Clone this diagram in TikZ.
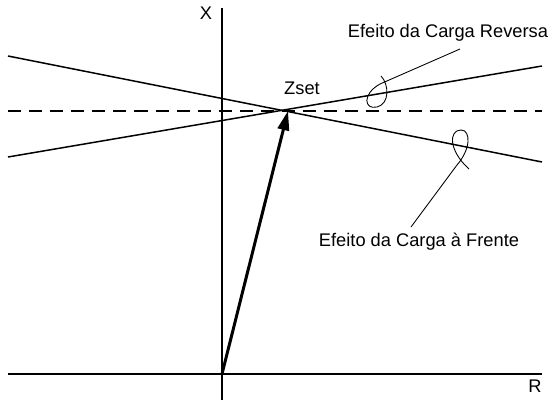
\documentclass[tikz,border=0pt]{standalone}
\usepackage{fontspec}
\setmainfont{Liberation Sans}
\usetikzlibrary{arrows.meta}
\begin{document}
\begin{tikzpicture}[x=0.02cm,y=-0.02cm,
  axis/.style={line width=0.85pt},
  reach/.style={line width=0.85pt},
  curl/.style={line width=0.5pt},
  lbl/.style={font=\fontsize{10.4}{12}\selectfont,inner sep=0pt}]
      \useasboundingbox (0,0) rectangle (556,403);
      \coordinate (O) at (222,374);
      \coordinate (Z) at (288,111);
      \coordinate (xtop) at (222,8);
      \coordinate (xbot) at (222,400);
      \coordinate (rleft) at (8,374);
      \coordinate (rright) at (542,374);
      \draw[axis] (xbot) -- (xtop);
      \draw[axis] (rleft) -- (rright);
      \node[lbl] (X) at (206,13) {X};
      \node[lbl] (R) at (535,386) {R};
      \draw[reach,dash pattern=on 7.4pt off 4.6pt] (8,111) -- (542,111);
      \draw[reach] (8,157) -- (542,66);
      \draw[reach] (8,56) -- (542,162);
      \draw[line width=1.7pt,-{Triangle[length=11pt,width=6.5pt]}] (O) -- (Z);
      \node[lbl] (zset) at (302,88) {Zset};
      \node[lbl] (rev) at (448,33) {Efeito da Carga Reversa};
      \node[lbl] (fwd) at (419,242) {Efeito da Carga à Frente};
      \draw[curl] (460,49) -- (380,84) .. controls (362,94) and (364,110) .. (377,107)
                  .. controls (390,104) and (389,84) .. (381,76);
      \draw[curl] (411,227) -- (457,165) .. controls (471,149) and (471,130) .. (461,130)
                  .. controls (449,130) and (448,150) .. (469,169);
\end{tikzpicture}
\end{document}
